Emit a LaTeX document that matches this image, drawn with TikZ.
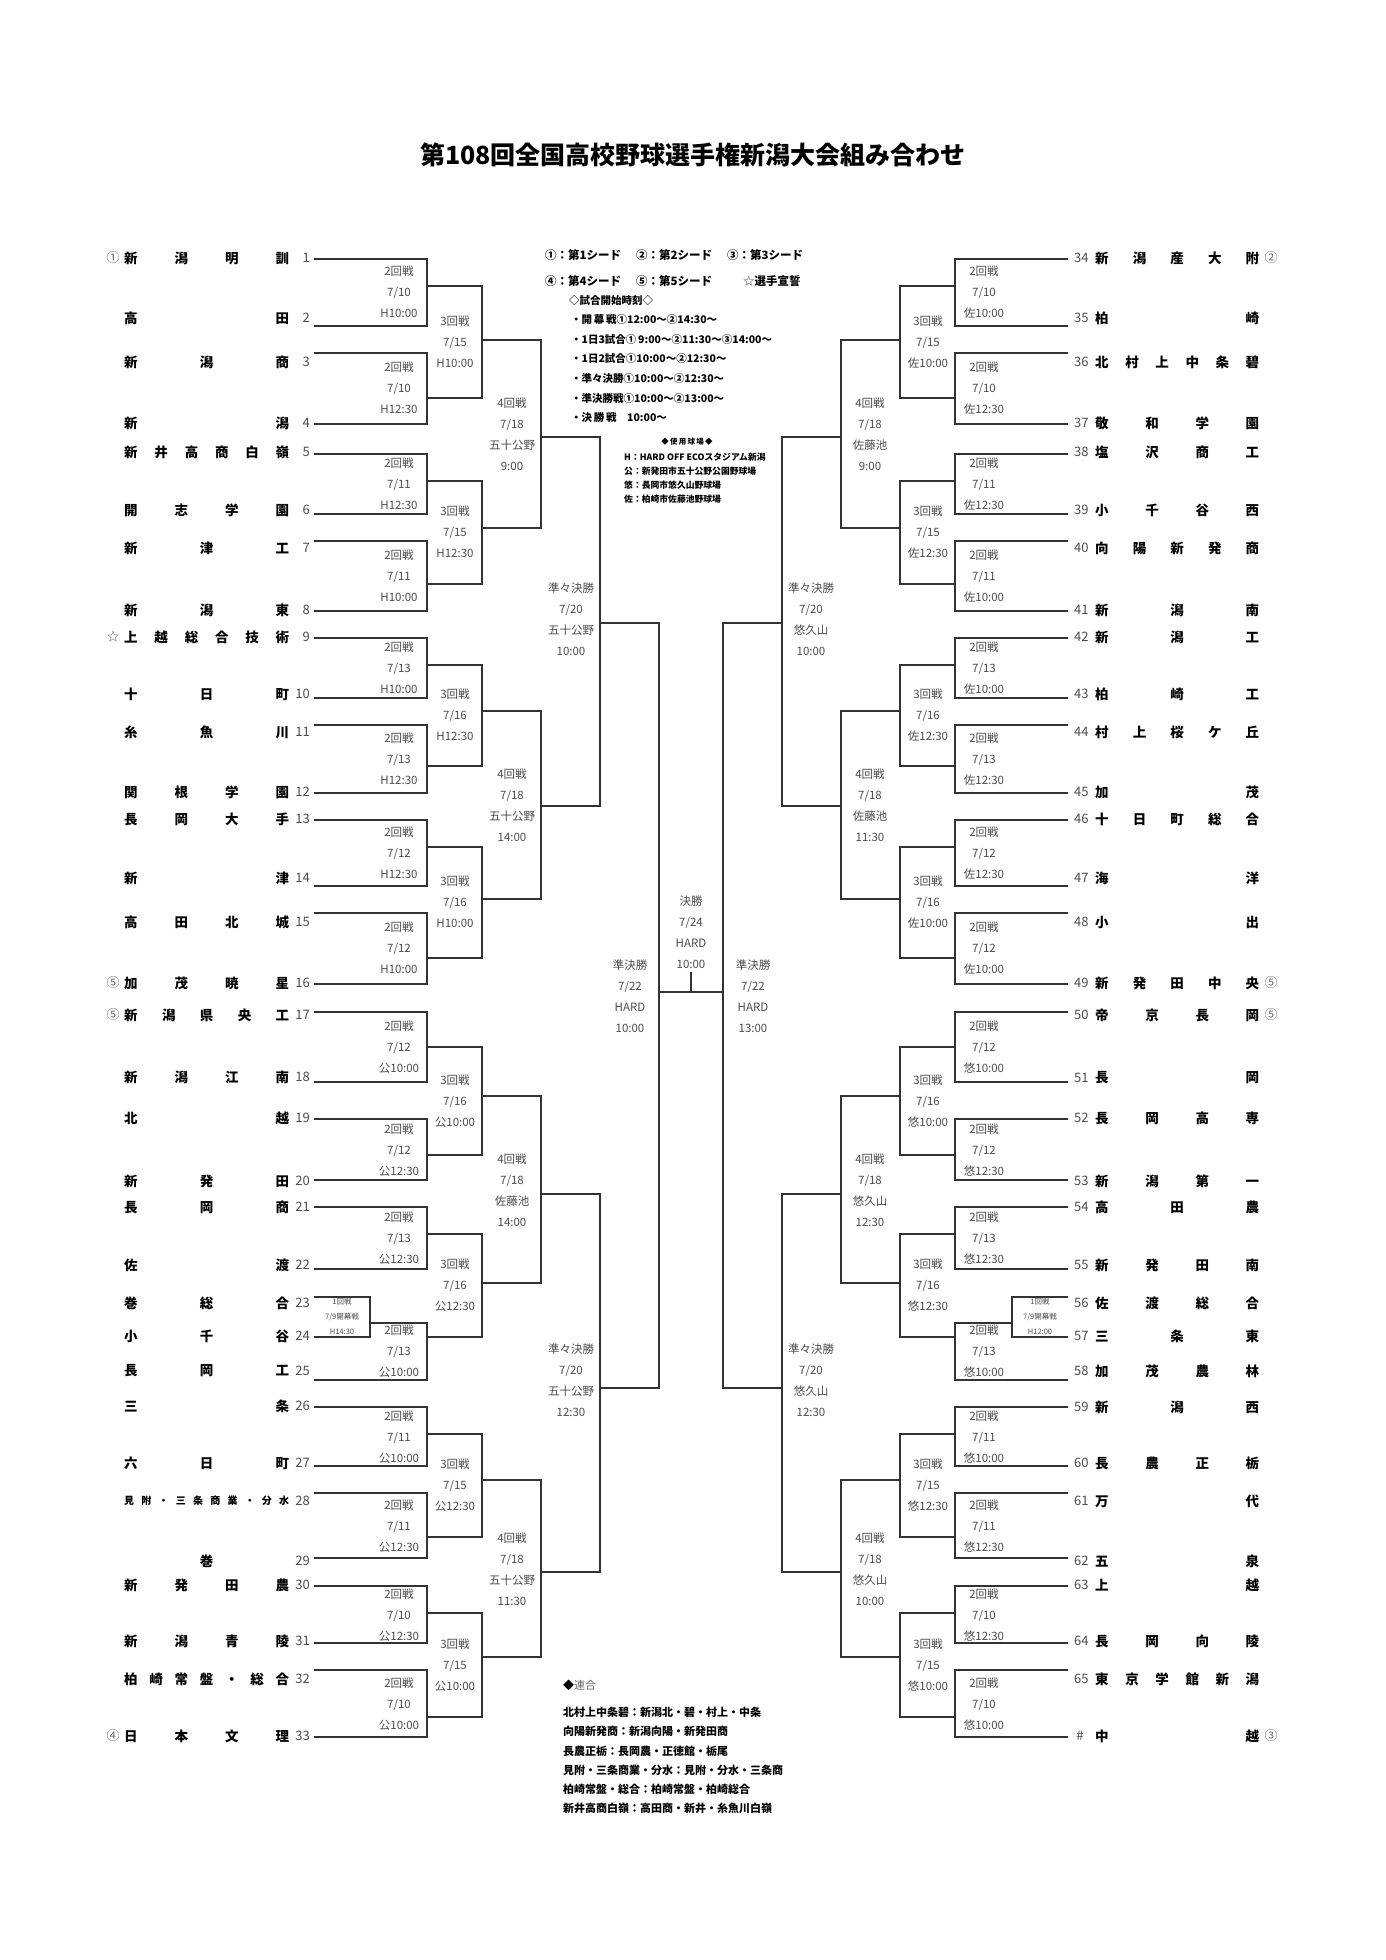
\documentclass[tikz,border=0pt]{standalone}
\usepackage{fontspec}
\setmainfont{Noto Sans CJK JP}
\usetikzlibrary{calc}
% spread the characters of a name over the whole name box
\newcommand\spreadname[1]{\spreadnext#1\relax}
\def\spreadnext#1#2{#1\ifx\relax#2\else\hfill\expandafter\spreadnext\expandafter#2\fi}

\begin{document}
\begin{tikzpicture}[x=1pt, y=-1pt,
  bracket/.style={draw=black!80, line width=1.4pt},
  team/.style={anchor=west, inner sep=0pt, font=\fontsize{13.5}{16}\selectfont\bfseries},
  num/.style={inner sep=0pt, text=black!70, font=\fontsize{13}{16}\selectfont},
  seed/.style={inner sep=0pt, text=black!60, font=\fontsize{13}{16}\selectfont},
  match/.style={inner sep=0pt, align=center, text=black!70, font=\fontsize{11.5}{21}\selectfont},
  opener/.style={inner sep=0pt, align=center, text=black!70, font=\fontsize{7.5}{15}\selectfont},
  legend/.style={anchor=west, inner sep=0pt, font=\fontsize{11.5}{14}\selectfont\bfseries},
  times/.style={anchor=west, inner sep=0pt, font=\fontsize{10.5}{13}\selectfont\bfseries},
  venue/.style={anchor=west, inner sep=0pt, font=\fontsize{8.8}{11}\selectfont\bfseries},
  union/.style={anchor=west, inner sep=0pt, font=\fontsize{11}{13}\selectfont\bfseries}]

\fill[white] (0,0) rectangle (1386,1960);
\useasboundingbox (0,0) rectangle (1386,1960);

\node[font=\fontsize{25}{30}\selectfont\bfseries] (title) at (693,155) {第108回全国高校野球選手権新潟大会組み合わせ};

% teams, left half (line y / text y / name)
\foreach \y/\ty/\nm [count=\i] in {259/258/新潟明訓, 326/318/高田, 353/362/新潟商, 424/423/新潟, 454/452/新井高商白嶺, 514/510/開志学園, 541/548/新津工, 611/610/新潟東, 638/637/上越総合技術, 698/694/十日町, 725/732/糸魚川, 793/792/関根学園, 820/819/長岡大手, 886/878/新津, 913/922/高田北城, 984/983/加茂暁星, 1012/1015/新潟県央工, 1082/1077/新潟江南, 1119/1118/北越, 1180/1181/新発田, 1207/1207/長岡商, 1269/1265/佐渡, 1297/1303/巻総合, 1337/1336/小千谷, 1380/1371/長岡工, 1407/1406/三条, 1466/1463/六日町, 1493/1501/見附・三条商業・分水, 1558/1561/\hfill 巻\hfill, 1586/1585/新発田農, 1643/1641/新潟青陵, 1670/1679/柏崎常盤・総合, 1737/1736/日本文理} {
  \coordinate (L\i) at (314,\y);
  \node[num, anchor=east] (Ln\i) at (310,\ty) {\i};
  \node[team] (Lt\i) at (124,\ty) {\hbox to 165pt{\ifnum\i=28 \fontsize{10}{12}\selectfont\fi\expandafter\spreadname\expandafter{\nm}}};
}

% teams, right half
\foreach \y/\ty/\nm [count=\i] in {259/258/新潟産大附, 326/318/柏崎, 353/362/北村上中条碧, 424/423/敬和学園, 454/452/塩沢商工, 514/510/小千谷西, 541/548/向陽新発商, 611/610/新潟南, 638/637/新潟工, 698/694/柏崎工, 725/732/村上桜ケ丘, 793/792/加茂, 820/819/十日町総合, 886/878/海洋, 913/922/小出, 984/983/新発田中央, 1012/1015/帝京長岡, 1082/1078/長岡, 1119/1118/長岡高専, 1180/1181/新潟第一, 1207/1207/高田農, 1269/1265/新発田南, 1297/1303/佐渡総合, 1337/1336/三条東, 1380/1371/加茂農林, 1407/1407/新潟西, 1466/1463/長農正栃, 1493/1501/万代, 1558/1561/五泉, 1586/1585/上越, 1643/1641/長岡向陵, 1670/1679/東京学館新潟, 1737/1736/中越} {
  \coordinate (R\i) at (1068,\y);
  \pgfmathtruncatemacro\tnum{\i+33}
  \node[num, anchor=west] (Rn\i) at (1074,\ty) {\ifnum\i=33 \,\#\else\tnum\fi};
  \node[team] (Rt\i) at (1095,\ty) {\hbox to 164pt{\expandafter\spreadname\expandafter{\nm}}};
}

% seeds
\node[seed] (seedL1) at (113,258) {①};
\node[seed] (seedL9) at (113,637) {☆};
\node[seed] (seedL16) at (113,983) {⑤};
\node[seed] (seedL17) at (113,1015) {⑤};
\node[seed] (seedL33) at (113,1736) {④};
\node[seed] (seedR1) at (1271,258) {②};
\node[seed] (seedR16) at (1271,983) {⑤};
\node[seed] (seedR17) at (1271,1015) {⑤};
\node[seed] (seedR33) at (1271,1736) {③};

% bracket joints
\foreach \side/\xr/\xa/\xb/\xc/\xd/\xe in {L/370/427/482/541/600/659, R/1012/955/900/841/782/723} {
  \coordinate (\side r) at (\xr,1323);
  \foreach \y [count=\k] in {286,398,481,584,665,766,847,958,1047,1155,1234,1337,1434,1537,1613,1717}
    \coordinate (\side a\k) at (\xa,\y);
  \foreach \y [count=\k] in {340,528,711,899,1096,1283,1480,1657}
    \coordinate (\side b\k) at (\xb,\y);
  \foreach \y [count=\k] in {437,806,1194,1572}
    \coordinate (\side c\k) at (\xc,\y);
  \coordinate (\side d1) at (\xd,623);
  \coordinate (\side d2) at (\xd,1388);
  \coordinate (\side s) at (\xe,992);
}

\foreach \side in {L,R} {
  \foreach \t/\p in {1/a1,2/a1,3/a2,4/a2,5/a3,6/a3,7/a4,8/a4,9/a5,10/a5,11/a6,12/a6,13/a7,14/a7,15/a8,16/a8,17/a9,18/a9,19/a10,20/a10,21/a11,22/a11,23/r,24/r,25/a12,26/a13,27/a13,28/a14,29/a14,30/a15,31/a15,32/a16,33/a16}
    \draw[bracket] (\side\t) -| (\side\p);
  \draw[bracket] (\side r) -| (\side a12);
  \foreach \k in {1,...,16} {
    \pgfmathtruncatemacro\p{(\k+1)/2}
    \draw[bracket] (\side a\k) -| (\side b\p);
  }
  \foreach \k in {1,...,8} {
    \pgfmathtruncatemacro\p{(\k+1)/2}
    \draw[bracket] (\side b\k) -| (\side c\p);
  }
  \draw[bracket] (\side c1) -| (\side d1);
  \draw[bracket] (\side c2) -| (\side d1);
  \draw[bracket] (\side c3) -| (\side d2);
  \draw[bracket] (\side c4) -| (\side d2);
  \draw[bracket] (\side d1) -| (\side s);
  \draw[bracket] (\side d2) -| (\side s);
}
\draw[bracket] (Ls) -- (Rs);
\coordinate (fin) at (691,972);
\draw[bracket] (fin) -- (fin |- Ls);

% match labels
\foreach \y/\d/\t [count=\k] in {292/10/H10:00, 388/10/H12:30, 484/11/H12:30, 576/11/H10:00, 668/13/H10:00, 759/13/H12:30, 853/12/H12:30, 948/12/H10:00, 1047/12/公10:00, 1150/12/公12:30, 1238/13/公12:30, 1351/13/公10:00, 1437/11/公10:00, 1526/11/公12:30, 1615/10/公12:30, 1704/10/公10:00}
  \node[match] (Lm\k) at (399,\y) {2回戦\\7/\d\\\t};
\foreach \y/\d/\t [count=\k] in {292/10/佐10:00, 388/10/佐12:30, 484/11/佐12:30, 576/11/佐10:00, 668/13/佐10:00, 759/13/佐12:30, 853/12/佐12:30, 948/12/佐10:00, 1047/12/悠10:00, 1150/12/悠12:30, 1238/13/悠12:30, 1351/13/悠10:00, 1437/11/悠10:00, 1526/11/悠12:30, 1615/10/悠12:30, 1704/10/悠10:00}
  \node[match] (Rm\k) at (984,\y) {2回戦\\7/\d\\\t};
\foreach \y/\d/\t [count=\k] in {342/15/H10:00, 532/15/H12:30, 715/16/H12:30, 902/16/H10:00, 1101/16/公10:00, 1285/16/公12:30, 1485/15/公12:30, 1665/15/公10:00}
  \node[match] (Lt3\k) at (455,\y) {3回戦\\7/\d\\\t};
\foreach \y/\d/\t [count=\k] in {342/15/佐10:00, 532/15/佐12:30, 715/16/佐12:30, 902/16/佐10:00, 1101/16/悠10:00, 1285/16/悠12:30, 1485/15/悠12:30, 1665/15/悠10:00}
  \node[match] (Rt3\k) at (928,\y) {3回戦\\7/\d\\\t};
\foreach \y/\v/\t [count=\k] in {434/五十公野/9:00, 805/五十公野/14:00, 1190/佐藤池/14:00, 1569/五十公野/11:30}
  \node[match] (Lf\k) at (512,\y) {4回戦\\7/18\\\v\\\t};
\foreach \y/\v/\t [count=\k] in {434/佐藤池/9:00, 805/佐藤池/11:30, 1190/悠久山/12:30, 1569/悠久山/10:00}
  \node[match] (Rf\k) at (870,\y) {4回戦\\7/18\\\v\\\t};

\node[match] (Lq1) at (571,619) {準々決勝\\7/20\\五十公野\\10:00};
\node[match] (Lq2) at (571,1380) {準々決勝\\7/20\\五十公野\\12:30};
\node[match] (Rq1) at (811,619) {準々決勝\\7/20\\悠久山\\10:00};
\node[match] (Rq2) at (811,1380) {準々決勝\\7/20\\悠久山\\12:30};
\node[match] (Lsemi) at (630,996) {準決勝\\7/22\\HARD\\10:00};
\node[match] (Rsemi) at (753,996) {準決勝\\7/22\\HARD\\13:00};
\node[match] (final) at (691,932) {決勝\\7/24\\HARD\\10:00};
\node[opener] (Lopen) at (342,1316) {1回戦\\7/9開幕戦\\H14:30};
\node[opener] (Ropen) at (1040,1316) {1回戦\\7/9開幕戦\\H12:00};

% key
\node[legend] (key1) at (545,255) {①：第1シード};
\node[legend] (key2) at (636,255) {②：第2シード};
\node[legend] (key3) at (727,255) {③：第3シード};
\node[legend] (key4) at (545,281) {④：第4シード};
\node[legend] (key5) at (636,281) {⑤：第5シード};
\node[legend] (key6) at (743,281) {{\mdseries\color{black!70}☆}選手宣誓};

\node[times] (timehead) at (569,301) {◇試合開始時刻◇};
\node[times] (time1) at (571,320) {・開\,幕\,戦①12:00～②14:30～};
\node[times] (time2) at (571,340) {・1日3試合①\,9:00～②11:30～③14:00～};
\node[times] (time3) at (571,359) {・1日2試合①10:00～②12:30～};
\node[times] (time4) at (571,378) {・準々決勝①10:00～②12:30～};
\node[times] (time5) at (571,398) {・準決勝戦①10:00～②13:00～};
\node[times] (time6) at (571,418) {・決\,勝\,戦\quad 10:00～};

\node[inner sep=0pt, font=\fontsize{7.5}{9}\selectfont\bfseries] (venuehead) at (687,442) {◆\,使\,用\,球\,場\,◆};
\node[venue] (venueH) at (624,457) {H：HARD OFF ECOスタジアム新潟};
\node[venue] (venueK) at (624,471) {公：新発田市五十公野公園野球場};
\node[venue] (venueY) at (624,485) {悠：長岡市悠久山野球場};
\node[venue] (venueS) at (624,499) {佐：柏崎市佐藤池野球場};

\node[union] (unionhead) at (563,1685) {◆{\mdseries\color{black!60}連合}};
\node[union] (union1) at (563,1712) {北村上中条碧：新潟北・碧・村上・中条};
\node[union] (union2) at (563,1731) {向陽新発商：新潟向陽・新発田商};
\node[union] (union3) at (563,1751) {長農正栃：長岡農・正徳館・栃尾};
\node[union] (union4) at (563,1770) {見附・三条商業・分水：見附・分水・三条商};
\node[union] (union5) at (563,1789) {柏崎常盤・総合：柏崎常盤・柏崎総合};
\node[union] (union6) at (563,1808) {新井高商白嶺：高田商・新井・糸魚川白嶺};
\end{tikzpicture}
\end{document}
